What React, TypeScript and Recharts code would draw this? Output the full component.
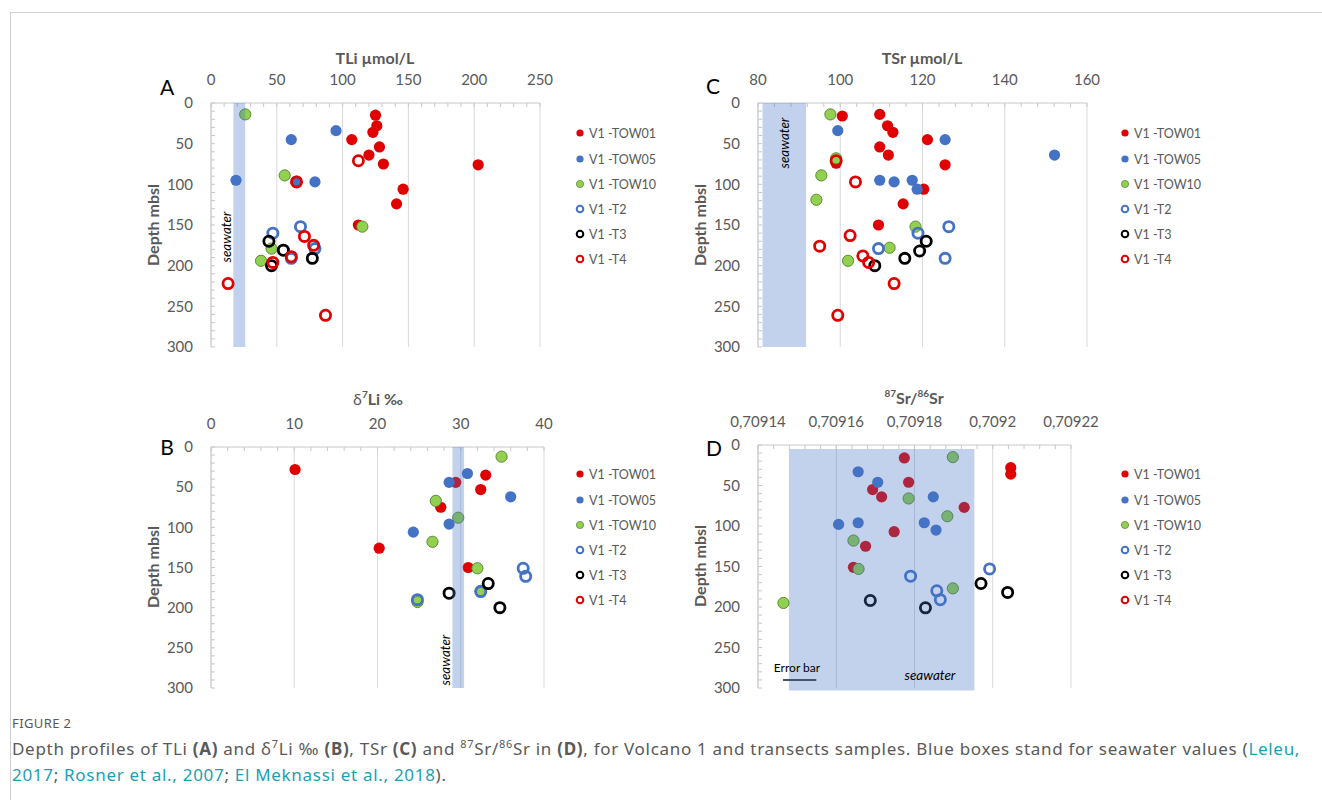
import React from "react";
import {
  ScatterChart,
  Scatter,
  XAxis,
  YAxis,
  CartesianGrid,
  ReferenceArea,
  ReferenceLine,
} from "recharts";

const FONT = "Lato, 'Open Sans', sans-serif";
const GREY = "#595959";

// ---- shared axis ticks ----
const depthTicks = [0, 50, 100, 150, 200, 250, 300];
const tliTicks = [0, 50, 100, 150, 200, 250];
const d7liTicks = [0, 10, 20, 30, 40];
const tsrTicks = [80, 100, 120, 140, 160];
const srRatioTicks = [0.70914, 0.70916, 0.70918, 0.7092, 0.70922];

const seriesNames = ["V1 -TOW01", "V1 -TOW05", "V1 -TOW10", "V1 -T2", "V1 -T3", "V1 -T4"];

// ---- panel A: TLi µmol/L vs depth ----
const tliTow01 = [[125, 15], [126, 28], [123, 36], [107, 45], [128, 54], [120, 64], [131, 75], [203, 76], [146, 106], [141, 124], [112, 150]];
const tliTow05 = [[95, 34], [61, 45], [19, 95], [65, 96], [79, 97]];
const tliTow10 = [[26, 14], [56, 89], [115, 152], [46, 179], [38, 194]];
const tliT2 = [[68, 152], [47, 160], [79, 179], [61, 191]];
const tliT3 = [[44, 170], [55, 181], [77, 191], [46, 200]];
const tliT4 = [[112, 71], [65, 97], [71, 164], [78, 175], [61, 189], [47, 196], [13, 222], [87, 261]];
const tliSeawater = [17, 26];

// ---- panel B: d7Li vs depth ----
const d7liTow01 = [[10.1, 28], [33, 35], [29.4, 44], [32.4, 53], [27.6, 75], [20.2, 126], [30.9, 150]];
const d7liTow05 = [[30.8, 33], [28.6, 44], [36, 62], [28.6, 96], [24.3, 106]];
const d7liTow10 = [[34.9, 12], [27, 67], [29.7, 88], [26.6, 118], [32, 151], [32.4, 179], [24.8, 193]];
const d7liT2 = [[37.5, 151], [37.8, 161], [32.4, 180], [24.8, 190]];
const d7liT3 = [[33.3, 170], [28.6, 182], [34.7, 200]];
const d7liSeawater = [29, 30.4];

// ---- panel C: TSr µmol/L vs depth ----
const tsrTow01 = [[109.6, 14], [100.5, 16], [111.5, 28], [112.8, 36], [121.2, 45], [109.6, 54], [111.7, 64], [99, 74], [125.5, 76], [120.3, 106], [115.3, 124], [109.3, 150]];
const tsrTow05 = [[99.4, 34], [125.5, 45], [152.1, 64], [109.6, 95], [113.1, 97], [117.5, 95], [118.7, 106]];
const tsrTow10 = [[97.6, 14], [99, 68], [95.4, 89], [94.2, 119], [118.3, 152], [112, 178], [101.9, 194]];
const tsrT2 = [[126.4, 152], [118.9, 160], [109.3, 179], [125.5, 191]];
const tsrT3 = [[120.9, 170], [119.3, 182], [115.7, 191], [108.4, 200]];
const tsrT4 = [[99, 71], [103.7, 97], [102.4, 163], [95, 176], [105.5, 188], [106.9, 196], [113.1, 222], [99.4, 261]];
const tsrSeawater = [81.1, 91.7];

// ---- panel D: 87Sr/86Sr vs depth ----
const srTow01 = [[0.7091774, 16], [0.7091785, 46], [0.7091693, 55], [0.7091716, 64], [0.7091927, 77], [0.7091748, 107], [0.7091675, 125], [0.7091644, 151], [0.7092046, 28], [0.7092046, 36]];
const srTow05 = [[0.7091656, 33], [0.7091706, 46], [0.7091848, 64], [0.7091606, 98], [0.7091656, 96], [0.7091825, 96], [0.7091855, 105]];
const srTow10 = [[0.7091898, 15], [0.7091785, 66], [0.7091884, 88], [0.7091644, 118], [0.7091657, 153], [0.7091898, 177], [0.7091465, 195]];
const srT2 = [[0.7091992, 153], [0.709179, 162], [0.7091857, 180], [0.7091866, 191]];
const srT3 = [[0.709197, 171], [0.7092038, 182], [0.7091687, 192], [0.7091828, 201]];
const srSeawater = [0.7091479, 0.7091953];
const srSeawaterDepth = [5, 303];
const srErrorBar = [0.7091464, 0.7091549];
const srErrorBarDepth = 290;

// ---- marker styles (by series index) ----
const markerStyles = [
  { color: "#e00000", open: false, edge: "none" },
  { color: "#4472c4", open: false, edge: "none" },
  { color: "#92d050", open: false, edge: "#5f8a36" },
  { color: "#4472c4", open: true, edge: "#4472c4" },
  { color: "#000000", open: true, edge: "#000000" },
  { color: "#e00000", open: true, edge: "#e00000" },
];

const toPts = (rows: number[][]) => rows.map(([x, depth]) => ({ x, depth }));

function withMinor(major: number[], steps: number) {
  const out: number[] = [];
  for (let i = 0; i < major.length - 1; i++) {
    for (let k = 0; k < steps; k++) out.push(major[i] + ((major[i + 1] - major[i]) * k) / steps);
  }
  out.push(major[major.length - 1]);
  return out;
}

const isMajor = (majors: number[], v: number) => majors.some((m) => Math.abs(m - v) < 1e-9);

function markerShape(idx: number) {
  const s = markerStyles[idx];
  return (props: any) => {
    if (props.cx == null || props.cy == null) return <g />;
    return s.open ? (
      <circle cx={props.cx} cy={props.cy} r={5.1} fill="none" stroke={s.edge} strokeWidth={2.8} />
    ) : (
      <circle cx={props.cx} cy={props.cy} r={5.6} fill={s.color} stroke={s.edge} strokeWidth={s.edge === "none" ? 0 : 1} />
    );
  };
}

type PanelProps = {
  plotLeft: number;
  plotTop: number;
  plotW: number;
  plotH: number;
  majors: number[];
  minorSteps: number;
  fmt: (v: number) => string;
  series: number[][][];
  band: number[];
  bandDepth?: number[];
  errorBar?: boolean;
};

function Panel(p: PanelProps) {
  const ML = 60;
  const MT = 40;
  const MR = 40;
  const width = ML + p.plotW + MR;
  const height = MT + p.plotH + 12;
  const xTicks = withMinor(p.majors, p.minorSteps);
  const yTicks = withMinor(depthTicks, 5);
  const domain = [p.majors[0], p.majors[p.majors.length - 1]];

  const renderXTick = (props: any) => {
    const v = props.payload.value;
    if (!isMajor(p.majors, v)) return <g />;
    return (
      <text x={props.x} y={props.y} textAnchor="middle" fontSize={15} fill={GREY} fontFamily={FONT}>
        {p.fmt(v)}
      </text>
    );
  };
  const renderYTick = (props: any) => {
    const v = props.payload.value;
    if (!isMajor(depthTicks, v)) return <g />;
    return (
      <text x={props.x} y={props.y} dy="0.35em" textAnchor="end" fontSize={15} fill={GREY} fontFamily={FONT}>
        {v}
      </text>
    );
  };

  const bd = p.bandDepth ?? [0, 300];

  return (
    <div style={{ position: "absolute", left: p.plotLeft - ML, top: p.plotTop - MT }}>
      <ScatterChart width={width} height={height} margin={{ top: 0, right: MR, bottom: 12, left: 0 }}>
        <CartesianGrid horizontal={false} vertical stroke="#d9d9d9" verticalValues={p.majors} />
        <XAxis
          type="number"
          dataKey="x"
          orientation="top"
          height={MT}
          domain={domain}
          ticks={xTicks}
          interval={0}
          allowDataOverflow
          tick={renderXTick}
          tickSize={-4}
          tickMargin={22}
          tickLine={{ stroke: "#c8c8c8" }}
          axisLine={{ stroke: "#c8c8c8" }}
        />
        <YAxis
          type="number"
          dataKey="depth"
          reversed
          width={ML}
          domain={[0, 300]}
          ticks={yTicks}
          interval={0}
          tick={renderYTick}
          tickSize={-4}
          tickMargin={22}
          tickLine={{ stroke: "#c8c8c8" }}
          axisLine={{ stroke: "#c8c8c8" }}
        />
        {p.series.map((rows, i) => (
          <Scatter
            key={seriesNames[i]}
            name={seriesNames[i]}
            data={toPts(rows)}
            shape={markerShape(i)}
            isAnimationActive={false}
          />
        ))}
        <ReferenceArea
          x1={p.band[0]}
          x2={p.band[1]}
          y1={bd[0]}
          y2={bd[1]}
          fill="#4472c4"
          fillOpacity={0.32}
          stroke="none"
          ifOverflow="visible"
          zIndex={2000}
        />
        {p.errorBar && (
          <ReferenceLine
            segment={[
              { x: srErrorBar[0], y: srErrorBarDepth },
              { x: srErrorBar[1], y: srErrorBarDepth },
            ]}
            stroke="#44546a"
            strokeWidth={2}
            ifOverflow="visible"
            zIndex={2001}
          />
        )}
      </ScatterChart>
    </div>
  );
}

function Legend({ left, top }: { left: number; top: number }) {
  const gap = [0, 26, 51, 76, 101, 126];
  return (
    <div style={{ position: "absolute", left, top }}>
      {seriesNames.map((n, i) => {
        const s = markerStyles[i];
        return (
          <div
            key={n}
            style={{
              position: "absolute",
              top: gap[i] - 9,
              left: 0,
              height: 18,
              display: "flex",
              alignItems: "center",
              whiteSpace: "nowrap",
              fontFamily: FONT,
              fontSize: 12.5,
              color: GREY,
            }}
          >
            <svg width={10} height={10} style={{ marginRight: 4 }}>
              {s.open ? (
                <circle cx={5} cy={5} r={3.3} fill="none" stroke={s.edge} strokeWidth={2} />
              ) : (
                <circle cx={5} cy={5} r={3.6} fill={s.color} stroke={s.edge} strokeWidth={s.edge === "none" ? 0 : 0.8} />
              )}
            </svg>
            {n}
          </div>
        );
      })}
    </div>
  );
}

const abs = (x: number, y: number, extra: React.CSSProperties = {}): React.CSSProperties => ({
  position: "absolute",
  left: x,
  top: y,
  transform: "translate(-50%, -50%)",
  whiteSpace: "nowrap",
  fontFamily: FONT,
  ...extra,
});

const titleStyle: React.CSSProperties = { fontSize: 16, fontWeight: 700, color: GREY };
const vTitle = (x: number, y: number) => (
  <div style={abs(x, y, { ...titleStyle, transform: "translate(-50%, -50%) rotate(-90deg)" })}>Depth mbsl</div>
);
const seaV = (x: number, y: number) => (
  <div style={abs(x, y, { fontSize: 13.5, fontStyle: "italic", color: "#000", transform: "translate(-50%, -50%) rotate(-90deg)" })}>
    seawater
  </div>
);
const letter = (x: number, y: number, t: string) => (
  <div style={abs(x, y, { fontSize: 21, color: "#000" })}>{t}</div>
);

const plain = (v: number) => String(v);
const comma = (v: number) => String(v).replace(".", ",");

const LINK = "#1a9fb4";
const capFont = "'Noto Sans', sans-serif";

export default function App() {
  return (
    <div style={{ position: "absolute", left: 0, top: 0, width: 1322, height: 800, background: "#fff", overflow: "hidden" }}>
      <div style={{ position: "absolute", left: 10, top: 12, right: -2, bottom: -2, borderTop: "1px solid #cfcfcf", borderLeft: "1px solid #cfcfcf" }} />

      <Panel plotLeft={211} plotTop={103} plotW={329} plotH={244} majors={tliTicks} minorSteps={5} fmt={plain}
        series={[tliTow01, tliTow05, tliTow10, tliT2, tliT3, tliT4]} band={tliSeawater} />
      <Panel plotLeft={211} plotTop={447} plotW={333} plotH={241} majors={d7liTicks} minorSteps={5} fmt={plain}
        series={[d7liTow01, d7liTow05, d7liTow10, d7liT2, d7liT3]} band={d7liSeawater} />
      <Panel plotLeft={758} plotTop={103} plotW={329} plotH={244} majors={tsrTicks} minorSteps={5} fmt={plain}
        series={[tsrTow01, tsrTow05, tsrTow10, tsrT2, tsrT3, tsrT4]} band={tsrSeawater} />
      <Panel plotLeft={758} plotTop={445} plotW={313} plotH={243} majors={srRatioTicks} minorSteps={5} fmt={comma}
        series={[srTow01, srTow05, srTow10, srT2, srT3]} band={srSeawater} bandDepth={srSeawaterDepth} errorBar />

      {/* axis titles */}
      <div style={abs(375, 57, titleStyle)}>TLi µmol/L</div>
      <div style={abs(922, 57, titleStyle)}>TSr µmol/L</div>
      <div style={abs(378, 398, titleStyle)}>
        <span style={{ fontWeight: 400 }}>δ</span>
        <sup style={{ fontSize: 10 }}>7</sup>Li ‰
      </div>
      <div style={abs(914, 397, titleStyle)}>
        <sup style={{ fontSize: 10 }}>87</sup>Sr/<sup style={{ fontSize: 10 }}>86</sup>Sr
      </div>
      {vTitle(152, 225)}
      {vTitle(152, 567)}
      {vTitle(699, 225)}
      {vTitle(699, 566)}

      {letter(167, 86, "A")}
      {letter(167, 446, "B")}
      {letter(713, 85, "C")}
      {letter(714, 447, "D")}

      {seaV(226, 237)}
      {seaV(784, 143)}
      {seaV(445, 660)}
      <div style={abs(930, 675, { fontSize: 13.5, fontStyle: "italic", color: "#000" })}>seawater</div>
      <div style={abs(797, 667, { fontSize: 12, color: "#000" })}>Error bar</div>

      <Legend left={575} top={133} />
      <Legend left={575} top={474} />
      <Legend left={1120} top={133} />
      <Legend left={1120} top={474} />

      {/* caption */}
      <div style={{ position: "absolute", left: 12, top: 714, fontFamily: capFont, fontSize: 13, color: GREY, letterSpacing: 0.4 }}>
        FIGURE 2
      </div>
      <div style={{ position: "absolute", left: 12, top: 731, fontFamily: capFont, fontSize: 17, color: GREY, lineHeight: "26px", whiteSpace: "nowrap", letterSpacing: 0.7 }}>
        Depth profiles of TLi <b>(A)</b> and δ<sup style={{ fontSize: 11 }}>7</sup>Li ‰ <b>(B)</b>, TSr <b>(C)</b> and{" "}
        <sup style={{ fontSize: 11 }}>87</sup>Sr/<sup style={{ fontSize: 11 }}>86</sup>Sr in <b>(D)</b>, for Volcano 1 and transects
        samples. Blue boxes stand for seawater values (<span style={{ color: LINK }}>Leleu,</span>
        <br />
        <span style={{ color: LINK }}>2017</span>; <span style={{ color: LINK }}>Rosner et al., 2007</span>;{" "}
        <span style={{ color: LINK }}>El Meknassi et al., 2018</span>).
      </div>
    </div>
  );
}
